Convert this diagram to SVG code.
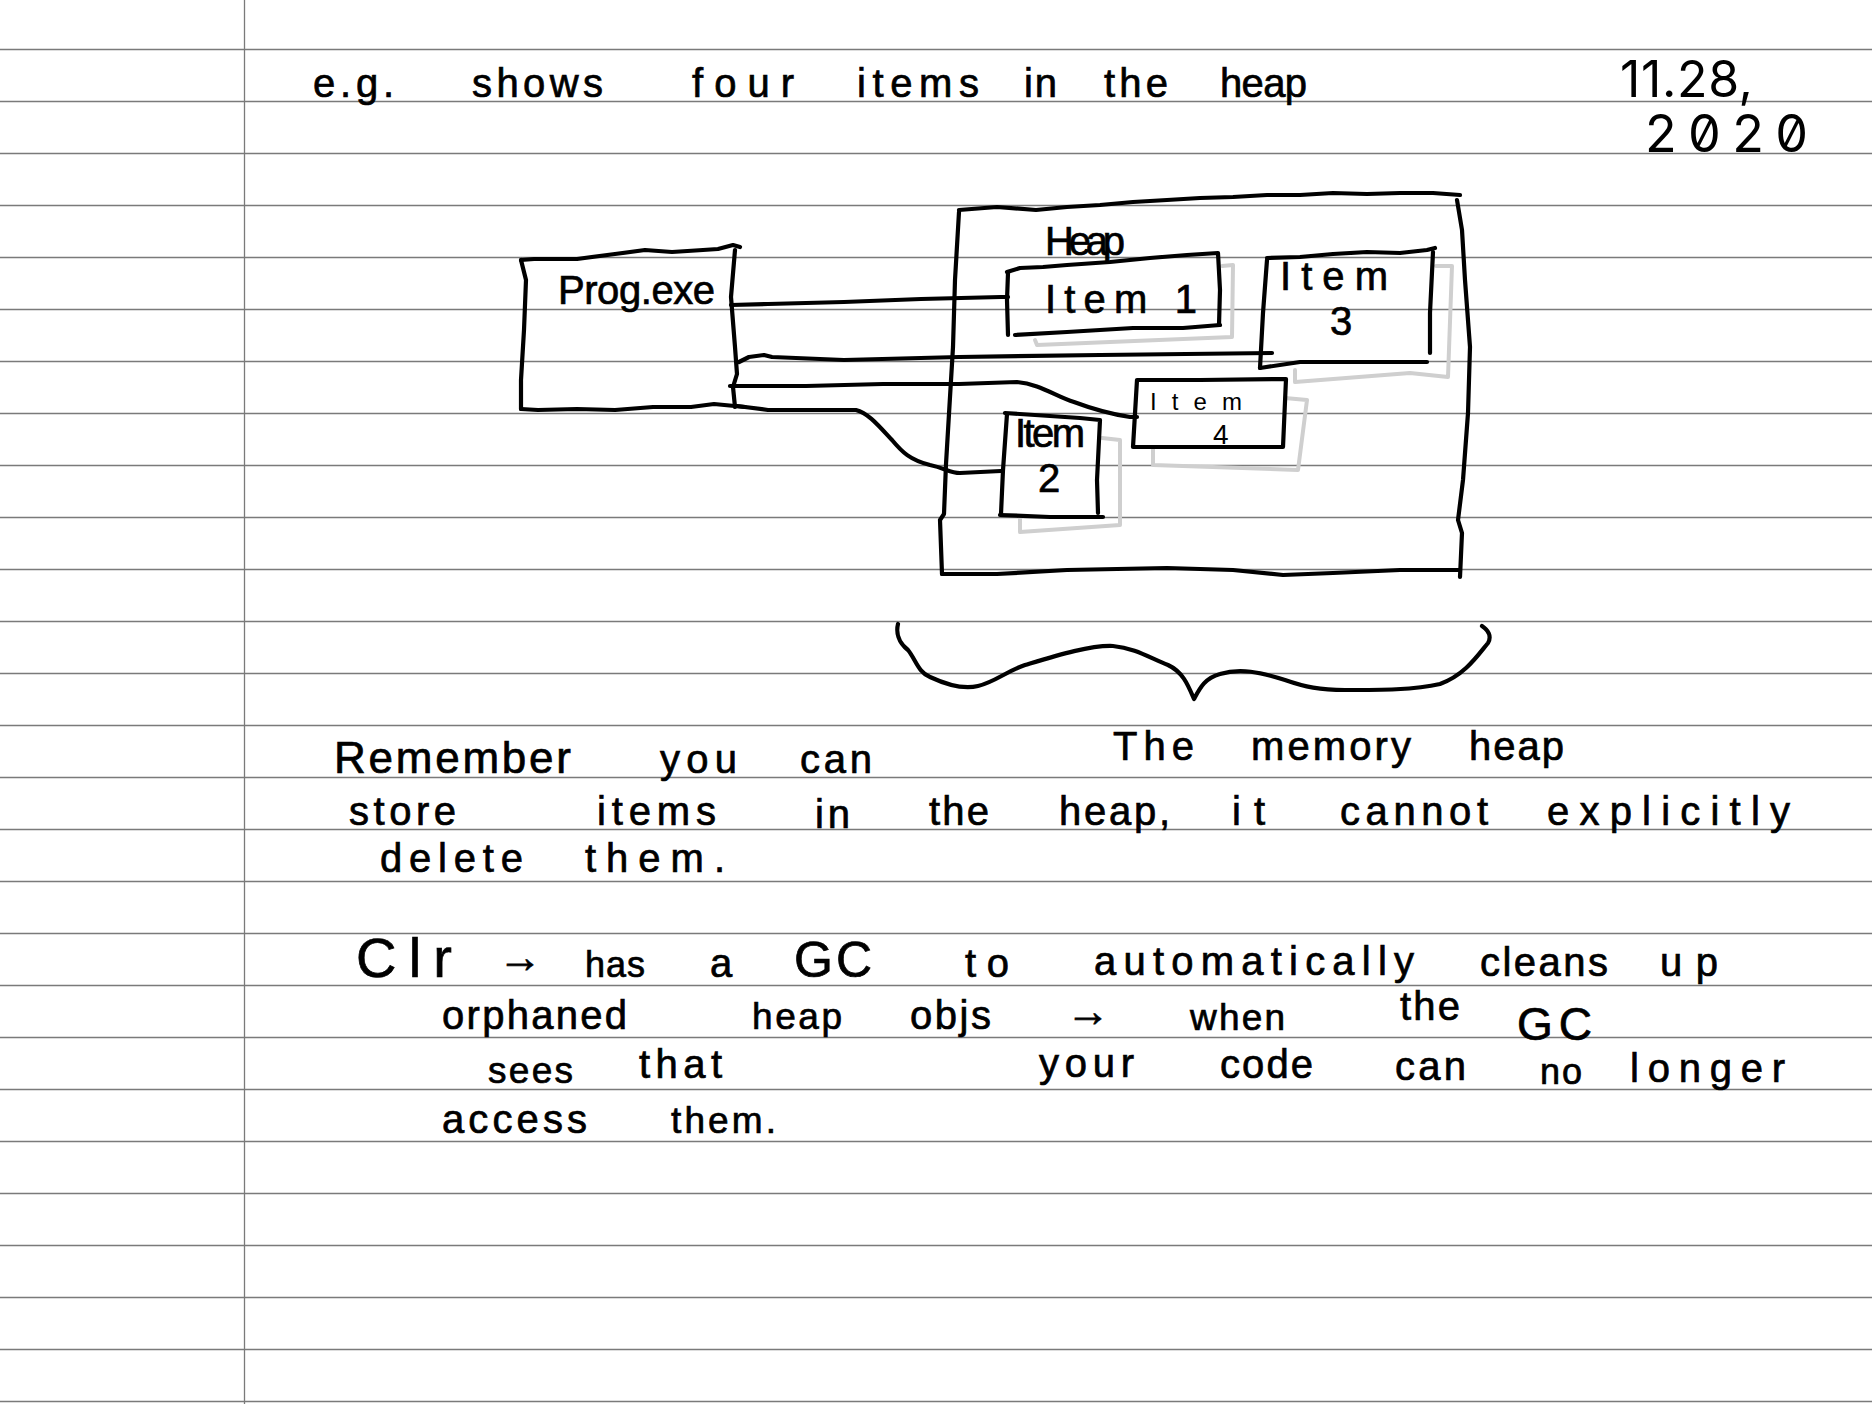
<svg xmlns="http://www.w3.org/2000/svg" width="1872" height="1404" viewBox="0 0 1872 1404">
<style>
.rule{stroke:#7a7a7a;stroke-width:1.3}
.ink{fill:none;stroke:#000;stroke-width:4.2;stroke-linecap:round;stroke-linejoin:round}
.shadow{fill:none;stroke:#cfcfcf;stroke-width:4;stroke-linecap:round;stroke-linejoin:round}
.hw{font-family:"Liberation Sans","DejaVu Sans",sans-serif;fill:#000;stroke:#000;stroke-width:0.7;font-size:40px}
.thin{font-family:"Liberation Sans","DejaVu Sans",sans-serif;fill:#000}
.date{font-family:Inter,"Liberation Sans",sans-serif;fill:#000;font-feature-settings:"zero" 1}
</style>
<rect width="1872" height="1404" fill="#fff"/>

<!-- ruled notebook paper -->
<g id="paper">
<line class="rule" x1="0" y1="49.5" x2="1872" y2="49.5"/>
<line class="rule" x1="0" y1="101.5" x2="1872" y2="101.5"/>
<line class="rule" x1="0" y1="153.5" x2="1872" y2="153.5"/>
<line class="rule" x1="0" y1="205.5" x2="1872" y2="205.5"/>
<line class="rule" x1="0" y1="257.5" x2="1872" y2="257.5"/>
<line class="rule" x1="0" y1="309.5" x2="1872" y2="309.5"/>
<line class="rule" x1="0" y1="361.5" x2="1872" y2="361.5"/>
<line class="rule" x1="0" y1="413.5" x2="1872" y2="413.5"/>
<line class="rule" x1="0" y1="465.5" x2="1872" y2="465.5"/>
<line class="rule" x1="0" y1="517.5" x2="1872" y2="517.5"/>
<line class="rule" x1="0" y1="569.5" x2="1872" y2="569.5"/>
<line class="rule" x1="0" y1="621.5" x2="1872" y2="621.5"/>
<line class="rule" x1="0" y1="673.5" x2="1872" y2="673.5"/>
<line class="rule" x1="0" y1="725.5" x2="1872" y2="725.5"/>
<line class="rule" x1="0" y1="777.5" x2="1872" y2="777.5"/>
<line class="rule" x1="0" y1="829.5" x2="1872" y2="829.5"/>
<line class="rule" x1="0" y1="881.5" x2="1872" y2="881.5"/>
<line class="rule" x1="0" y1="933.5" x2="1872" y2="933.5"/>
<line class="rule" x1="0" y1="985.5" x2="1872" y2="985.5"/>
<line class="rule" x1="0" y1="1037.5" x2="1872" y2="1037.5"/>
<line class="rule" x1="0" y1="1089.5" x2="1872" y2="1089.5"/>
<line class="rule" x1="0" y1="1141.5" x2="1872" y2="1141.5"/>
<line class="rule" x1="0" y1="1193.5" x2="1872" y2="1193.5"/>
<line class="rule" x1="0" y1="1245.5" x2="1872" y2="1245.5"/>
<line class="rule" x1="0" y1="1297.5" x2="1872" y2="1297.5"/>
<line class="rule" x1="0" y1="1349.5" x2="1872" y2="1349.5"/>
<line class="rule" x1="0" y1="1401.5" x2="1872" y2="1401.5"/>
<line class="rule" x1="244.5" y1="0" x2="244.5" y2="1404"/>
</g>

<!-- heading and date -->
<g id="heading" class="hw" font-size="42">
<text x="313" y="97" textLength="81" lengthAdjust="spacing">e.g.</text>
<text x="472" y="97" textLength="131" lengthAdjust="spacing">shows</text>
<text x="692" y="97" textLength="102" lengthAdjust="spacing">four</text>
<text x="857" y="97" textLength="122" lengthAdjust="spacing">items</text>
<text x="1024" y="97" textLength="33" lengthAdjust="spacing">in</text>
<text x="1104" y="97" textLength="64" lengthAdjust="spacing">the</text>
<text x="1220" y="97" textLength="87" lengthAdjust="spacing">heap</text>
</g>
<g id="date">
<text class="date" x="1620" y="97" font-size="50" textLength="133" lengthAdjust="spacing">11.28,</text>
<text class="date" x="1645" y="152" font-size="52" textLength="163" lengthAdjust="spacing">2020</text>
</g>

<!-- connectors from the program to its heap items -->
<g id="connectors" class="ink">
<path d="M731,305 L768,304 L844,302 L921,299 L1001,297 L1008,297"/>
<path d="M739,362 L749,357 L764,355 L772,357 L844,360 L959,357 L1100,355 L1272,353"/>
<path d="M730,386 L806,386 L883,384 L959,384 L1017,382 C1040,384 1055,396 1074,402 C1090,408 1110,414 1130,417 L1137,417"/>
<path d="M737,406 L768,410 L856,410 C868,413 878,425 892,440 C902,452 910,460 930,465 C945,468 950,473 960,473 L1001,471"/>
</g>

<!-- Prog.exe -->
<g id="prog">
<path class="ink" d="M521,260 L534,259 L577,259 L615,254 L645,250 L672,252 L703,250 L718,249 L733,245 L740,247"/>
<path class="ink" d="M735,250 L731,297 L735,347 L737,374 L733,387 L735,407"/>
<path class="ink" d="M521,409 L538,410 L577,409 L615,410 L653,407 L691,407 L714,404 L745,407"/>
<path class="ink" d="M521,260 L526,280 L524,330 L521,380 L521,409"/>
<text class="hw" x="558" y="304" font-size="34" textLength="157" lengthAdjust="spacing">Prog.exe</text>
</g>

<!-- heap region -->
<g id="heap">
<path class="ink" d="M959,210 L997,207 L1036,210 L1067,207 L1100,205 L1133,202 L1167,200 L1200,198 L1233,197 L1267,195 L1300,195 L1333,193 L1367,194 L1400,193 L1433,193 L1460,195"/>
<path class="ink" d="M1457,200 L1462,230 L1465,280 L1470,347 L1468,413 L1463,480 L1458,520 L1462,533 L1460,577"/>
<path class="ink" d="M942,574 L997,574 L1067,570 L1167,568 L1233,570 L1283,575 L1333,573 L1400,570 L1460,570"/>
<path class="ink" d="M959,212 L955,280 L953,347 L950,397 L946,464 L944,514 L940,520 L942,574"/>
<text class="hw" x="1045" y="255" font-size="31" textLength="80" lengthAdjust="spacing">Heap</text>
</g>

<!-- Item 1 -->
<g id="item1">
<path class="shadow" d="M1222,266 L1233,265 L1232,337 L1037,345 L1035,340"/>
<path class="ink" d="M1007,272 L1020,268 L1043,267 L1067,265 L1110,262 L1150,258 L1187,255 L1218,253 L1220,290 L1219,325"/>
<path class="ink" d="M1015,335 L1067,332 L1133,328 L1183,328 L1220,325"/>
<path class="ink" d="M1008,273 L1007,300 L1008,335"/>
<text class="hw" x="1045" y="313" font-size="31" textLength="152" lengthAdjust="spacing">Item 1</text>
</g>

<!-- Item 3 -->
<g id="item3">
<path class="shadow" d="M1436,266 L1452,266 L1448,377 L1410,373 L1295,382 L1295,370"/>
<path class="ink" d="M1267,258 L1300,257 L1333,254 L1367,252 L1400,253 L1427,250 L1435,248"/>
<path class="ink" d="M1433,252 L1430,313 L1430,353"/>
<path class="ink" d="M1260,368 L1300,362 L1367,362 L1427,362"/>
<path class="ink" d="M1267,260 L1263,313 L1260,368"/>
<text class="hw" x="1280" y="290" font-size="30" textLength="108" lengthAdjust="spacing">Item</text>
<text class="hw" x="1330" y="335" font-size="40">3</text>
</g>

<!-- Item 4 -->
<g id="item4">
<path class="shadow" d="M1285,398 L1307,400 L1298,470 L1153,465 L1153,448"/>
<path class="ink" d="M1137,380 L1200,380 L1286,379 L1283,447 L1135,447 L1133,447 L1137,380"/>
<text class="thin" x="1150" y="410" font-size="24" textLength="92" lengthAdjust="spacing">Item</text>
<text class="thin" x="1213" y="444" font-size="28">4</text>
</g>

<!-- Item 2 -->
<g id="item2">
<path class="shadow" d="M1102,438 L1120,440 L1120,525 L1020,532 L1020,518"/>
<path class="ink" d="M1005,413 L1080,418 L1100,420 L1097,480 L1098,513"/>
<path class="ink" d="M1000,515 L1050,517 L1103,517"/>
<path class="ink" d="M1007,414 L1003,470 L1001,514"/>
<text class="hw" x="1015" y="447" font-size="25" textLength="70" lengthAdjust="spacing">Item</text>
<text class="hw" x="1038" y="492" font-size="38">2</text>
</g>

<!-- brace under the heap -->
<g id="brace">
<path class="ink" d="M898,624 C896,632 898,642 908,650 C916,660 918,672 930,677 C945,684 962,690 978,686 C995,682 1005,672 1025,665 C1055,656 1090,645 1113,646 C1135,648 1150,658 1168,665 C1183,672 1188,685 1194,699 C1200,688 1205,678 1220,674 C1240,668 1260,672 1285,680 C1305,687 1320,690 1345,690 C1380,690 1415,690 1440,684 C1465,675 1478,655 1488,643 C1492,636 1488,630 1482,626"/>
<text class="hw" x="1113" y="760" font-size="46" textLength="81" lengthAdjust="spacing">The</text>
<text class="hw" x="1251" y="760" font-size="42" textLength="160" lengthAdjust="spacing">memory</text>
<text class="hw" x="1469" y="760" font-size="42" textLength="95" lengthAdjust="spacing">heap</text>
</g>

<!-- notes -->
<g id="notes" class="hw">
<text x="334" y="773" font-size="44" textLength="237" lengthAdjust="spacing">Remember</text>
<text x="660" y="773" textLength="77" lengthAdjust="spacing">you</text>
<text x="800" y="773" textLength="72" lengthAdjust="spacing">can</text>

<text x="349" y="825" textLength="107" lengthAdjust="spacing">store</text>
<text x="597" y="825" textLength="119" lengthAdjust="spacing">items</text>
<text x="815" y="828" textLength="35" lengthAdjust="spacing">in</text>
<text x="929" y="825" textLength="60" lengthAdjust="spacing">the</text>
<text x="1059" y="825" textLength="111" lengthAdjust="spacing">heap,</text>
<text x="1232" y="825" textLength="33" lengthAdjust="spacing">it</text>
<text x="1340" y="825" textLength="148" lengthAdjust="spacing">cannot</text>
<text x="1547" y="825" textLength="243" lengthAdjust="spacing">explicitly</text>

<text x="380" y="872" textLength="143" lengthAdjust="spacing">delete</text>
<text x="585" y="872" textLength="140" lengthAdjust="spacing">them.</text>

<text x="356" y="977" font-size="56" textLength="96" lengthAdjust="spacing">Clr</text>
<text x="498" y="972" font-size="44">→</text>
<text x="585" y="977" font-size="36" textLength="60" lengthAdjust="spacing">has</text>
<text x="710" y="977">a</text>
<text x="794" y="977" font-size="50" textLength="78" lengthAdjust="spacing">GC</text>
<text x="965" y="977" textLength="44" lengthAdjust="spacing">to</text>
<text x="1094" y="975" textLength="320" lengthAdjust="spacing">automatically</text>
<text x="1480" y="976" textLength="128" lengthAdjust="spacing">cleans</text>
<text x="1660" y="976" textLength="58" lengthAdjust="spacing">up</text>

<text x="442" y="1029" textLength="185" lengthAdjust="spacing">orphaned</text>
<text x="752" y="1029" font-size="37" textLength="90" lengthAdjust="spacing">heap</text>
<text x="910" y="1029" textLength="81" lengthAdjust="spacing">objs</text>
<text x="1066" y="1026" font-size="44">→</text>
<text x="1190" y="1030" font-size="37" textLength="95" lengthAdjust="spacing">when</text>
<text x="1400" y="1020" textLength="60" lengthAdjust="spacing">the</text>
<text x="1517" y="1040" font-size="46" textLength="75" lengthAdjust="spacing">GC</text>

<text x="488" y="1083" font-size="37" textLength="85" lengthAdjust="spacing">sees</text>
<text x="639" y="1078" textLength="83" lengthAdjust="spacing">that</text>
<text x="1039" y="1077" textLength="95" lengthAdjust="spacing">your</text>
<text x="1220" y="1078" textLength="93" lengthAdjust="spacing">code</text>
<text x="1395" y="1080" textLength="71" lengthAdjust="spacing">can</text>
<text x="1540" y="1084" font-size="36" textLength="42" lengthAdjust="spacing">no</text>
<text x="1630" y="1082" textLength="155" lengthAdjust="spacing">longer</text>

<text x="442" y="1133" textLength="145" lengthAdjust="spacing">access</text>
<text x="671" y="1133" font-size="37" textLength="105" lengthAdjust="spacing">them.</text>
</g>
</svg>
